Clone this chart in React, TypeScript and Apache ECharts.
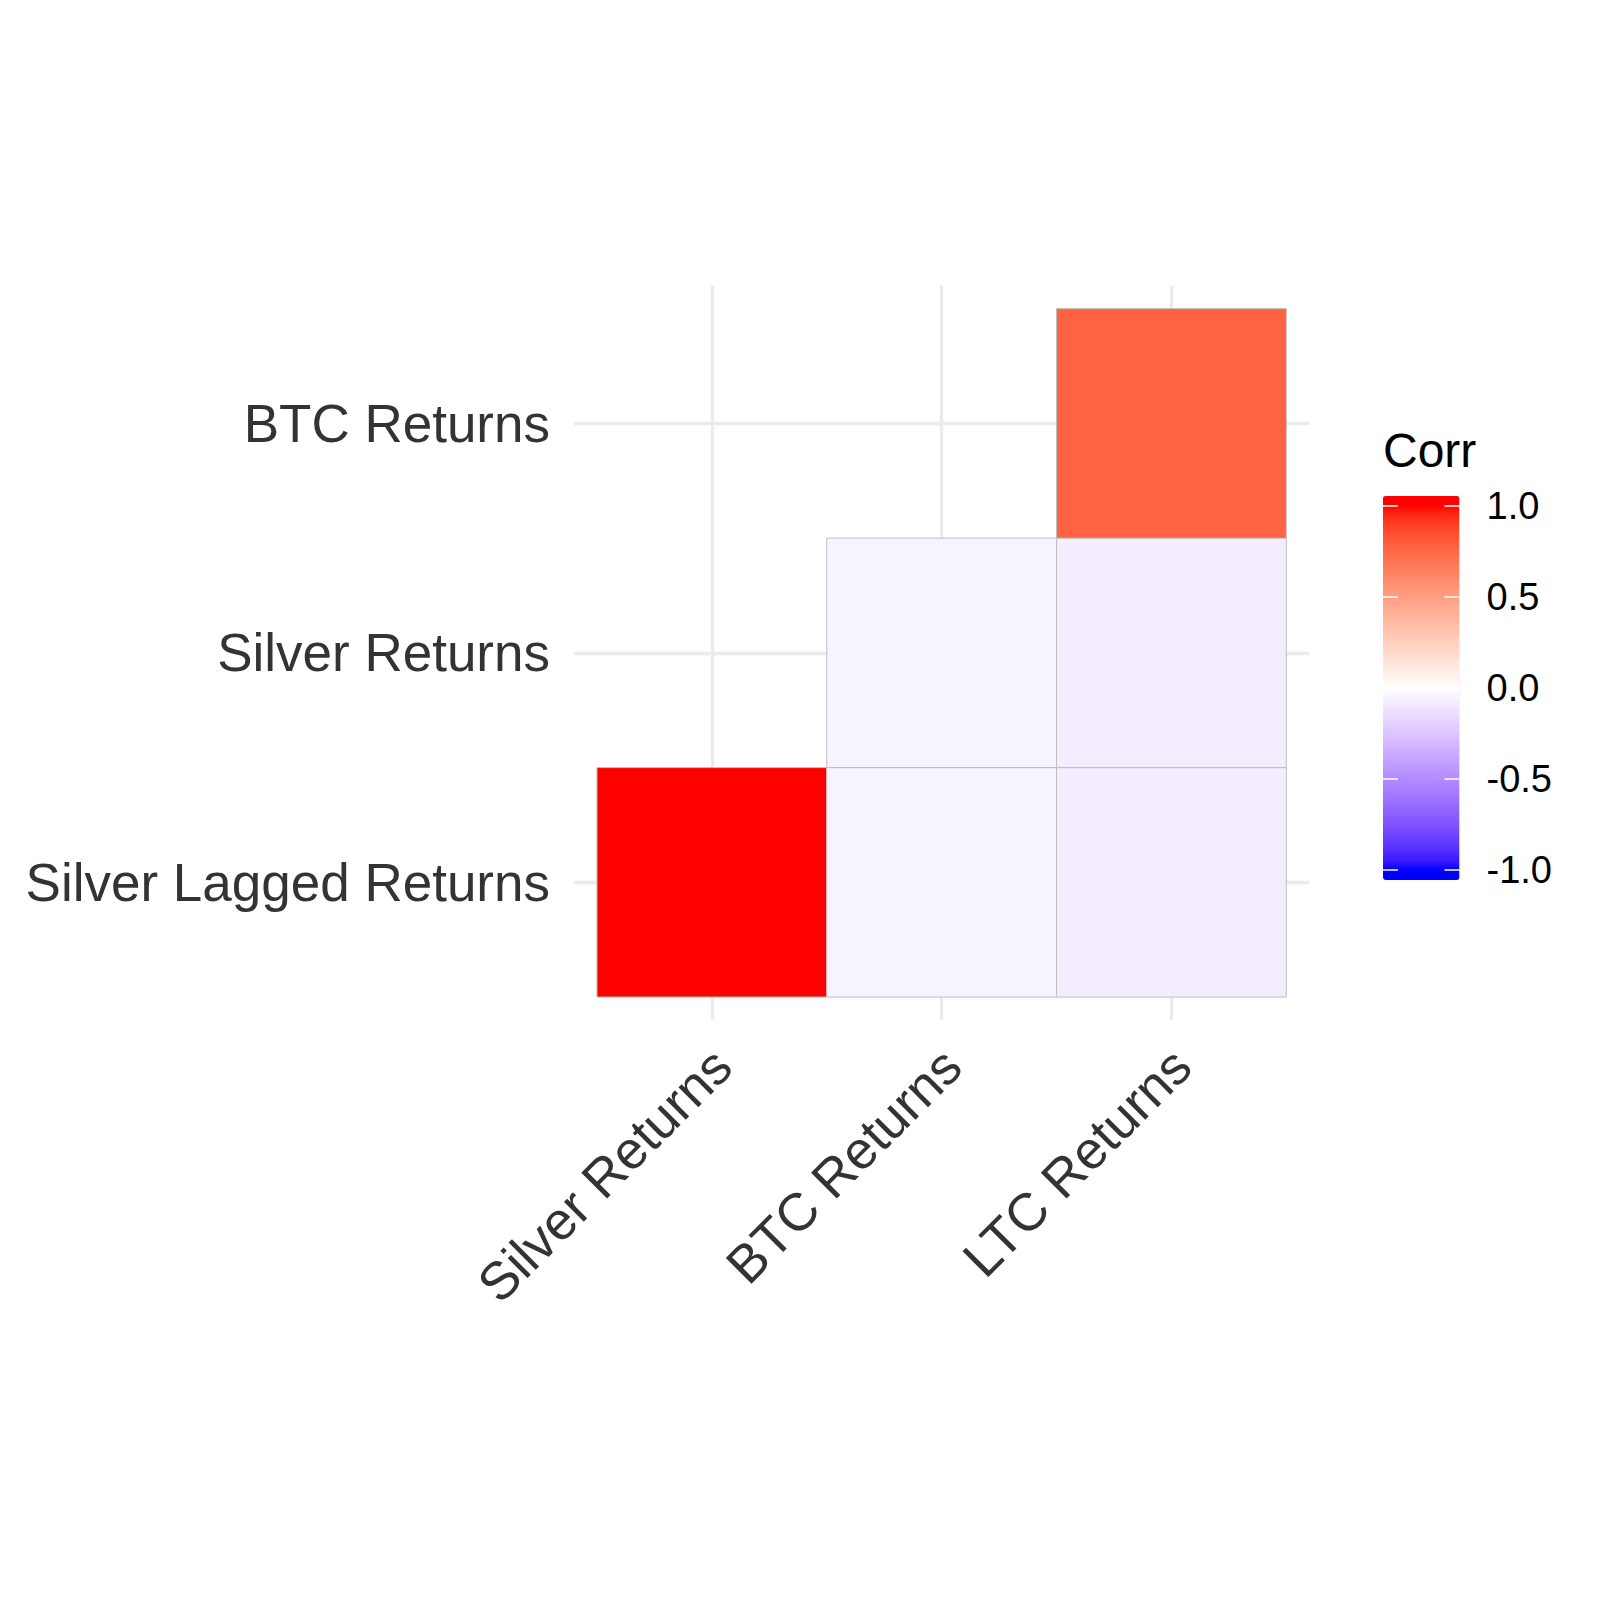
import React, { useEffect, useRef } from "react";
import * as echarts from "echarts";

// ---- data ----
const xCategories = ["Silver Returns", "BTC Returns", "LTC Returns"];
const yCategories = ["Silver Lagged Returns", "Silver Returns", "BTC Returns"];
// correlations per y row (index matches xCategories), null = hidden (upper triangle)
const rowSilverLagged = [1.0, -0.05, -0.08];
const rowSilver = [null, -0.05, -0.08];
const rowBTC = [null, null, 0.77];
const legendTicks = [-1, -0.5, 0, 0.5, 1];
const legendTitle = "Corr";

const rows = [rowSilverLagged, rowSilver, rowBTC];

// ---- colour helpers (Lab interpolation like ggplot's gradient2) ----
const FONT = "'Liberation Sans', Arial, Helvetica, sans-serif";
function hexToRgb(h: string) {
  const n = parseInt(h.slice(1), 16);
  return [(n >> 16) & 255, (n >> 8) & 255, n & 255];
}
function toLin(c: number) {
  c /= 255;
  return c <= 0.04045 ? c / 12.92 : Math.pow((c + 0.055) / 1.055, 2.4);
}
function fromLin(c: number) {
  c = Math.max(0, Math.min(1, c));
  const v = c <= 0.0031308 ? 12.92 * c : 1.055 * Math.pow(c, 1 / 2.4) - 0.055;
  return Math.round(v * 255);
}
const XN = 0.95047, YN = 1.0, ZN = 1.08883;
function fLab(t: number) {
  return t > 0.008856 ? Math.cbrt(t) : 7.787 * t + 16 / 116;
}
function fInv(t: number) {
  const t3 = t * t * t;
  return t3 > 0.008856 ? t3 : (t - 16 / 116) / 7.787;
}
function rgbToLab(rgb: number[]) {
  const R = toLin(rgb[0]), G = toLin(rgb[1]), B = toLin(rgb[2]);
  const X = 0.4124 * R + 0.3576 * G + 0.1805 * B;
  const Y = 0.2126 * R + 0.7152 * G + 0.0722 * B;
  const Z = 0.0193 * R + 0.1192 * G + 0.9505 * B;
  const fx = fLab(X / XN), fy = fLab(Y / YN), fz = fLab(Z / ZN);
  return [116 * fy - 16, 500 * (fx - fy), 200 * (fy - fz)];
}
function labToHex(lab: number[]) {
  const fy = (lab[0] + 16) / 116;
  const fx = fy + lab[1] / 500;
  const fz = fy - lab[2] / 200;
  const X = XN * fInv(fx), Y = YN * fInv(fy), Z = ZN * fInv(fz);
  const R = 3.2406 * X - 1.5372 * Y - 0.4986 * Z;
  const G = -0.9689 * X + 1.8758 * Y + 0.0415 * Z;
  const B = 0.0557 * X - 0.204 * Y + 1.057 * Z;
  const hx = (v: number) => v.toString(16).padStart(2, "0");
  return "#" + hx(fromLin(R)) + hx(fromLin(G)) + hx(fromLin(B));
}
const LOW = rgbToLab(hexToRgb("#0000FF"));
const MID = rgbToLab(hexToRgb("#FFFFFF"));
const HIGH = rgbToLab(hexToRgb("#FF0000"));
function colorAt(v: number) {
  const c = Math.max(-1, Math.min(1, v));
  const end = c >= 0 ? HIGH : LOW;
  const t = Math.abs(c);
  return labToHex(MID.map((m, i) => m + (end[i] - m) * t));
}
// colour bar runs half a bin (of 20) beyond the limits, like ggplot's colourbar
const EXT = 20 / 19;
const stops: string[] = [];
for (let i = 0; i <= 40; i++) stops.push(colorAt(-EXT + i / 19));

export default function App() {
  const ref = useRef<HTMLDivElement>(null);
  useEffect(() => {
    document.body.style.margin = "0";
    if (!ref.current) return;
    const chart = echarts.init(ref.current, null, { renderer: "svg" });
    const cells: number[][] = [];
    rows.forEach((row, yi) =>
      row.forEach((v, xi) => {
        if (v !== null && v !== undefined) cells.push([xi, yi, v as number]);
      })
    );
    const option: any = {
      animation: false,
      backgroundColor: "#FFFFFF",
      textStyle: { fontFamily: FONT },
      grid: [
        { left: 574, top: 285.7, width: 735.3, height: 734.3 },
        { left: 1383, top: 505.7, width: 76.5, height: 364.3 },
      ],
      xAxis: [
        {
          type: "value",
          gridIndex: 0,
          min: -0.6,
          max: 2.6,
          axisLine: { show: false },
          axisTick: { show: false },
          splitLine: { show: false },
          axisLabel: {
            customValues: [0, 1, 2],
            formatter: (v: number) => xCategories[Math.round(v)] ?? "",
            rotate: 45,
            align: "right",
            verticalAlign: "top",
            margin: 10,
            padding: [0, 12, 0, 0],
            fontSize: 53,
            color: "#333333",
            fontFamily: FONT,
          },
        },
        { type: "value", gridIndex: 1, min: 0, max: 1, show: false },
      ],
      yAxis: [
        {
          type: "value",
          gridIndex: 0,
          min: -0.6,
          max: 2.6,
          axisLine: { show: false },
          axisTick: { show: false },
          splitLine: { show: false },
          axisLabel: {
            customValues: [0, 1, 2],
            formatter: (v: number) => yCategories[Math.round(v)] ?? "",
            margin: 24,
            fontSize: 53,
            color: "#333333",
            fontFamily: FONT,
          },
        },
        {
          type: "value",
          gridIndex: 1,
          min: legendTicks[0],
          max: legendTicks[legendTicks.length - 1],
          interval: 0.5,
          position: "right",
          z: 10,
          axisLine: { show: false },
          axisTick: { show: false },
          splitLine: {
            show: true,
            lineStyle: { color: "#FFFFFF", width: 1.5, type: [15, 46.5], dashOffset: 0 },
          },
          axisLabel: {
            formatter: (v: number) => v.toFixed(1),
            margin: 27,
            fontSize: 38,
            color: "#000000",
            fontFamily: FONT,
          },
        },
      ],
      visualMap: {
        type: "continuous",
        min: -EXT,
        max: EXT,
        seriesIndex: 1,
        dimension: 2,
        calculable: false,
        hoverLink: false,
        orient: "vertical",
        left: 1383,
        top: 496,
        padding: 0,
        itemWidth: 76.5,
        itemHeight: 384,
        inRange: { color: stops },
      },
      graphic: [
        {
          type: "text",
          x: 1383,
          y: 450,
          style: {
            text: legendTitle,
            fontSize: 48,
            fill: "#000000",
            fontFamily: FONT,
            align: "left",
            verticalAlign: "middle",
          },
        },
      ],
      series: [
        {
          type: "scatter",
          xAxisIndex: 0,
          yAxisIndex: 0,
          data: [],
          z: 0,
          silent: true,
          markLine: {
            silent: true,
            z: 0,
            symbol: ["none", "none"],
            label: { show: false },
            emphasis: { disabled: true },
            lineStyle: { color: "#EBEBEB", width: 3.3, type: "solid" },
            data: [
              ...xCategories.map((_, i) => ({ xAxis: i })),
              ...yCategories.map((_, i) => ({ yAxis: i })),
            ],
          },
        },
        {
          type: "custom",
          xAxisIndex: 0,
          yAxisIndex: 0,
          z: 10,
          dimensions: ["x", "y", "corr"],
          encode: { x: 0, y: 1 },
          data: cells,
          renderItem: (params: any, api: any) => {
            const x = api.value(0);
            const y = api.value(1);
            const p1 = api.coord([x - 0.5, y + 0.5]);
            const p2 = api.coord([x + 0.5, y - 0.5]);
            return {
              type: "rect",
              shape: { x: p1[0], y: p1[1], width: p2[0] - p1[0], height: p2[1] - p1[1] },
              style: { fill: api.visual("color"), stroke: "#BEBEBE", lineWidth: 1 },
            };
          },
        },
      ],
    };
    chart.setOption(option);
    return () => chart.dispose();
  }, []);
  return <div ref={ref} style={{ width: 1600, height: 1600 }} />;
}
